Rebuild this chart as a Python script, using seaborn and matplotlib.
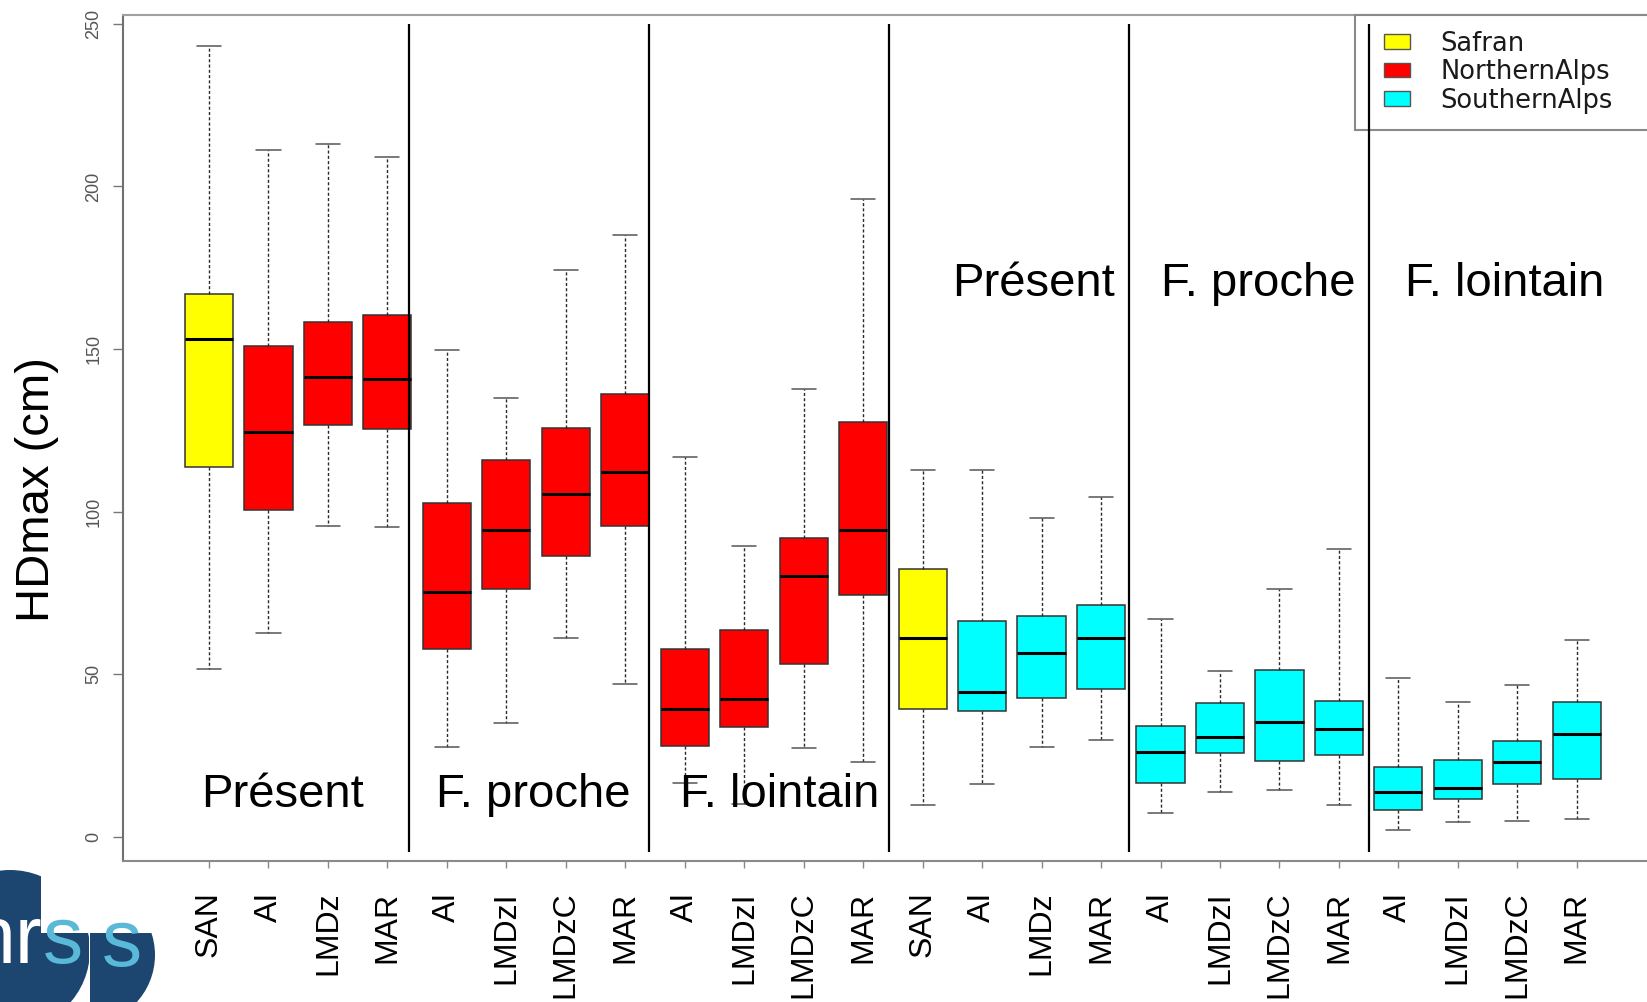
import numpy as np
import pandas as pd
import matplotlib
matplotlib.use("Agg")
import matplotlib.pyplot as plt
from matplotlib.patches import Circle, Patch, Polygon, Rectangle
from matplotlib.legend_handler import HandlerPatch
import seaborn as sns

# ---- data: HDmax (cm) box statistics per model / period ----
models = ["SAN", "AI", "LMDz", "MAR",
          "AI", "LMDzI", "LMDzC", "MAR",
          "AI", "LMDzI", "LMDzC", "MAR",
          "SAN", "AI", "LMDz", "MAR",
          "AI", "LMDzI", "LMDzC", "MAR",
          "AI", "LMDzI", "LMDzC", "MAR"]
sources = (["Safran"] + ["NorthernAlps"] * 11 +
           ["Safran"] + ["SouthernAlps"] * 11)
whisker_low = [51.6, 62.8, 95.5, 95.2, 27.6, 35.0, 61.1, 47.1,
               16.6, 10.2, 27.3, 23.1, 9.7, 16.3, 27.7, 29.7,
               7.4, 13.7, 14.4, 9.7, 2.1, 4.4, 4.7, 5.4]
q1 = [113.8, 100.6, 126.7, 125.5, 57.7, 76.3, 86.2, 95.7,
      28.0, 33.7, 53.0, 74.2, 39.4, 38.7, 42.8, 45.4,
      16.4, 25.7, 23.2, 25.0, 8.1, 11.7, 16.1, 17.7]
median = [153.2, 124.5, 141.3, 140.7, 75.3, 94.4, 105.5, 112.3,
          39.3, 42.5, 80.3, 94.2, 61.0, 44.6, 56.5, 61.1,
          26.1, 30.6, 35.2, 33.1, 13.9, 14.9, 22.9, 31.6]
q3 = [167.0, 150.9, 158.3, 160.4, 102.6, 115.8, 125.7, 136.1,
      57.7, 63.5, 91.9, 127.4, 82.4, 66.2, 67.9, 71.3,
      34.0, 41.0, 51.4, 41.6, 21.5, 23.5, 29.3, 41.3]
whisker_high = [243.2, 211.1, 213.0, 209.1, 149.6, 134.8, 174.3, 185.1,
                116.8, 89.3, 137.8, 196.2, 112.8, 112.8, 98.0, 104.4,
                67.0, 50.9, 76.1, 88.4, 48.7, 41.5, 46.7, 60.4]
periods = ["Présent", "F. proche", "F. lointain"]
source_order = ["Safran", "NorthernAlps", "SouthernAlps"]
palette = {"Safran": "#ffff00", "NorthernAlps": "#ff0000", "SouthernAlps": "#00ffff"}

# five points per box reproduce min / quartiles / max exactly
slots = [str(i) for i in range(len(models))]
rows = []
for i, s in enumerate(slots):
    for v in (whisker_low[i], q1[i], median[i], q3[i], whisker_high[i]):
        rows.append({"slot": s, "value": v, "source": sources[i]})
df = pd.DataFrame(rows)

# ---- figure layout (pixels) ----
W, H, DPI = 1647, 1002, 100
sns.set_style("white")
plt.rcParams["font.family"] = ["Liberation Sans", "DejaVu Sans"]
plt.rcParams["text.color"] = "black"
plt.rcParams["axes.labelcolor"] = "black"

fig = plt.figure(figsize=(W / DPI, H / DPI), dpi=DPI)
ax_l, ax_r, ax_t, ax_b = 123, 1720, 14.7, 861
ax = fig.add_axes([ax_l / W, 1 - ax_b / H, (ax_r - ax_l) / W, (ax_b - ax_t) / H])

sns.boxplot(data=df, x="slot", y="value", hue="source", order=slots,
            hue_order=source_order, palette=palette, saturation=1, dodge=False,
            width=0.81, whis=(0, 100), showfliers=False,
            linecolor="#222222", linewidth=1.1, legend=False, ax=ax,
            boxprops=dict(edgecolor="#333333", linewidth=1.1),
            whiskerprops=dict(color="#2a2a2a", linestyle=(0, (2.2, 1.6)), linewidth=1.0),
            capprops=dict(color="#555555", linewidth=1.1),
            medianprops=dict(color="black", linewidth=2.2))

# data <-> pixel mapping of the category axis
x0_px, step_px = 209, 59.47
ax.set_xlim((ax_l - x0_px) / step_px, (ax_r - x0_px) / step_px)
ax.set_ylim(-7.47, 252.8)

# period separators
sep_x = [3.363 + 4.036 * k for k in range(5)]
ax.vlines(sep_x, -4.7, 249.8, color="black", linewidth=1.6, zorder=6)

# period names
bottom_x = [1.23, 5.45, 9.60]
top_x = [13.86, 17.64, 21.78]
for name, xb, xt in zip(periods, bottom_x, top_x):
    ax.text(xb, 9.1, name, fontsize=34, ha="center", va="baseline", color="black", zorder=7)
    ax.text(xt, 166.2, name, fontsize=34, ha="center", va="baseline", color="black", zorder=7)

# axes styling
for side in ("left", "top", "bottom"):
    ax.spines[side].set_visible(True)
    ax.spines[side].set_linewidth(1.5)
ax.spines["left"].set_color("#707070")
ax.spines["top"].set_color("#a0a0a0")
ax.spines["bottom"].set_color("#8a8a8a")
ax.spines["right"].set_visible(False)

ax.set_xticks(range(len(models)))
ax.set_xticklabels(models)
ax.tick_params(axis="x", bottom=True, length=5, width=1, color="#888888",
               labelsize=23, pad=17, labelrotation=90, labelcolor="black")
ax.set_yticks([0, 50, 100, 150, 200, 250])
ax.tick_params(axis="y", left=True, length=7, width=1, color="#777777",
               labelsize=13, pad=8, labelcolor="#555555")
for lab in ax.get_yticklabels():
    lab.set_rotation(90)
    lab.set_va("center")
    lab.set_ha("right")
    lab.set_family(["Liberation Sans Narrow", "Liberation Sans"])
ax.set_xlabel("")
ax.set_ylabel("HDmax (cm)", fontsize=34, va="center", color="black")
ax.yaxis.set_label_coords((37 - ax_l) / (ax_r - ax_l), (ax_b - 490) / (ax_b - ax_t))


# legend: colour keys sit a little inside their handle box
def key_patch(legend, orig_handle, xdescent, ydescent, width, height, fontsize):
    kw = 0.66 * width
    return Rectangle((-xdescent + width - kw, -ydescent), kw, height)


handles = [Patch(facecolor=palette[s], edgecolor="#555555", linewidth=1.0, label=s)
           for s in source_order]
leg_top = 1 - 14.7 / H
leg = ax.legend(handles=handles, loc="upper left", mode="expand",
                bbox_to_anchor=(1355 / W, leg_top - 0.3, (1720 - 1355) / W, 0.3),
                bbox_transform=fig.transFigure,
                frameon=True, fancybox=False, framealpha=1, edgecolor="#8a8a8a",
                prop={"family": "DejaVu Sans", "size": 18.5},
                handlelength=1.51, handleheight=0.5, handletextpad=1.2,
                labelspacing=0.1, borderpad=0.62, borderaxespad=0,
                handler_map={Patch: HandlerPatch(patch_func=key_patch)})
leg.get_frame().set_linewidth(1.5)
for t in leg.get_texts():
    t.set_color("#1a1a1a")

# logo fragment, bottom-left corner
ov = fig.add_axes([0, 0, 1, 1], zorder=10)
ov.set_xlim(0, W)
ov.set_ylim(H, 0)
ov.axis("off")
navy, light = "#1c4670", "#5ab9d8"
clip1 = Polygon([(-60, 840), (41, 840), (41, 933), (88.5, 933), (88.5, 1010), (-60, 1010)],
                closed=True, transform=ov.transData)
disc1 = Circle((10, 950), 80, facecolor=navy, edgecolor="none")
ov.add_patch(disc1)
disc1.set_clip_path(clip1)
clip2 = Rectangle((89.5, 933), 120, 80, transform=ov.transData)
disc2 = Circle((85, 955), 70, facecolor=navy, edgecolor="none")
ov.add_patch(disc2)
disc2.set_clip_path(clip2)
logo_font = ["Liberation Sans Narrow", "Liberation Sans"]
t1 = ov.text(42, 963, "nr", color="white", fontsize=58, ha="right", va="baseline",
             family=logo_font)
t1.set_clip_path(clip1)
ov.text(43, 963, "s", color=light, fontsize=58, ha="left", va="baseline", family=logo_font)
t3 = ov.text(102, 966, "s", color=light, fontsize=58, ha="left", va="baseline",
             family=logo_font)
t3.set_clip_path(clip2)

fig.savefig("out.png", dpi=DPI)
